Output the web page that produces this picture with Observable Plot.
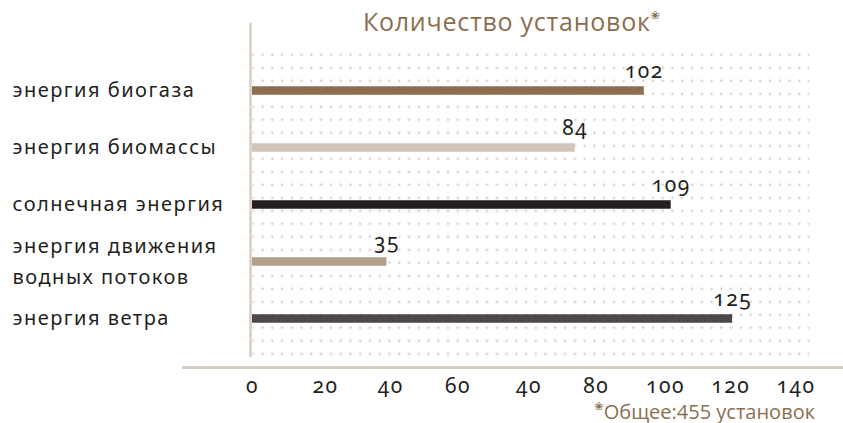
<!DOCTYPE html>
<html><head><meta charset="utf-8">
<script src="https://cdn.jsdelivr.net/npm/d3@7"></script>
<script src="https://cdn.jsdelivr.net/npm/@observablehq/plot@0.6"></script>
<style>
body{margin:0;background:#fff;}
#wrap{position:relative;width:843px;height:423px;overflow:hidden;}
#title{position:absolute;left:363px;top:8.5px;font-family:"Open Sans";font-size:25px;line-height:25px;letter-spacing:0.75px;color:#8c6e4f;white-space:nowrap;}
#title sup,#foot sup{font-size:11px;font-family:"DejaVu Sans";vertical-align:0;position:relative;letter-spacing:0;}
#title sup{top:-12px;margin-left:0px;}
#foot{position:absolute;right:28px;top:401.5px;font-family:"Open Sans";font-size:20px;line-height:20px;color:#8c6e4f;white-space:nowrap;}
#foot sup{top:-9px;}
</style></head><body>
<div id="wrap"></div>
<script>
const categories = ["энергия биогаза","энергия биомассы","солнечная энергия","энергия движения\nводных потоков","энергия ветра"];
const values = [102, 84, 109, 35, 125];
const colors = ["#8c6e4f","#d1c4b8","#231f20","#b3a08a","#4d4847"];
const tickValues = [0, 19, 36, 53.5, 72, 89.5, 107.5, 124.5, 141.5];
const tickLabels = ["0","20","40","60","40","80","100","120","140"];
const titleText = "Количество установок";
const footText = "Общее:455 установок";
const mark = "❀";

const data = categories.map((c, i) => ({category: c, value: values[i]}));

const chart = Plot.plot({
  width: 843, height: 423,
  marginLeft: 252, marginRight: 34, marginTop: 50, marginBottom: 66,
  x: {domain: [0, 145], axis: null},
  y: {type: "point", domain: categories, padding: 0.66, axis: null},
  color: {domain: categories, range: colors},
  style: {background: "transparent", fontFamily: "Noto Sans", color: "#231f20", letterSpacing: "1.5px"},
  marks: [
    Plot.frame({fill: "url(#dotgrid)", stroke: null}),
    Plot.ruleX([0], {stroke: "#d8cdc2", strokeWidth: 2.5, dx: -2, insetTop: -27}),
    Plot.frame({anchor: "bottom", stroke: "#d8cdc2", strokeWidth: 3, dy: 10, insetLeft: -69, insetRight: -34}),
    Plot.ruleY(data, {y: "category", x1: 0, x2: "value", stroke: "category", strokeWidth: 8.7}),
    Plot.text(data, {x: "value", y: "category", text: d => String(d.value), dy: -13, lineAnchor: "bottom", fontSize: 21, fontVariant: "oldstyle-nums", fill: "#231f20"}),
    Plot.text(data, {y: "category", text: "category", frameAnchor: "left", textAnchor: "start", dx: -240, dy: -3, fontSize: 20, lineHeight: 1.55, fill: "#231f20"}),
    Plot.axisX(tickValues, {tickFormat: d => tickLabels[tickValues.indexOf(d)], tickSize: 0, tickPadding: 21, fontSize: 21, fontVariant: "oldstyle-nums", fill: "#231f20", label: null})
  ]
});

const ns = "http://www.w3.org/2000/svg";
const defs = document.createElementNS(ns, "defs");
const pat = document.createElementNS(ns, "pattern");
pat.setAttribute("id", "dotgrid");
pat.setAttribute("patternUnits", "userSpaceOnUse");
pat.setAttribute("x", "251");
pat.setAttribute("y", "53");
pat.setAttribute("width", "9.76");
pat.setAttribute("height", "13");
const c = document.createElementNS(ns, "circle");
c.setAttribute("cx", "1.3"); c.setAttribute("cy", "1.3"); c.setAttribute("r", "1.25");
c.setAttribute("fill", "#d9cec4");
pat.appendChild(c); defs.appendChild(pat);
chart.insertBefore(defs, chart.firstChild);

const wrap = document.getElementById("wrap");
wrap.appendChild(chart);
const t = document.createElement("div"); t.id = "title";
t.innerHTML = titleText + "<sup>" + mark + "</sup>";
wrap.appendChild(t);
const f = document.createElement("div"); f.id = "foot";
f.innerHTML = "<sup>" + mark + "</sup>" + footText;
wrap.appendChild(f);
</script>
</body></html>
